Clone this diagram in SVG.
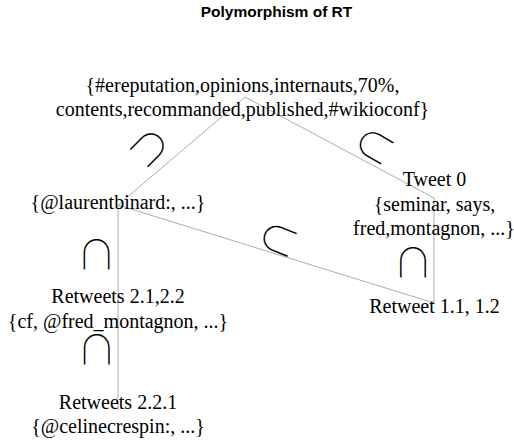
<svg xmlns="http://www.w3.org/2000/svg" width="514" height="441" viewBox="0 0 514 441">
  <style>
    .title { font-family: "Liberation Sans", Arial, sans-serif; font-weight: bold; font-size: 15.5px; fill: #000; }
    .lbl { font-family: "Liberation Serif", "Times New Roman", serif; font-size: 20px; fill: #000; text-anchor: middle; }
    .edge { stroke: #ababab; stroke-width: 1; fill: none; }
    .cap { font-family: "Noto Sans CJK JP", "Noto Sans CJK SC", sans-serif; font-weight: 100; font-size: 40px; fill: #000; text-anchor: middle; }
  </style>
  <rect width="514" height="441" fill="#fff"/>
  <text class="title" x="276.5" y="17" text-anchor="middle">Polymorphism of RT</text>

  <!-- connectors between node centres -->
  <g id="edges">
    <line class="edge" x1="245" y1="97" x2="118" y2="205"/>
    <line class="edge" x1="245" y1="97" x2="434" y2="198"/>
    <line class="edge" x1="118" y1="205" x2="434" y2="303"/>
    <line class="edge" x1="118" y1="205" x2="118" y2="310"/>
    <line class="edge" x1="118" y1="310" x2="118" y2="410"/>
    <line class="edge" x1="434" y1="198" x2="434" y2="303"/>
  </g>

  <!-- intersection marks on each connector, arch turned toward the parent node -->
  <g id="caps">
    <g transform="translate(148,149) rotate(45)"><text class="cap" y="13">∩</text></g>
    <g transform="translate(376,147) rotate(-60)"><text class="cap" y="13">∩</text></g>
    <g transform="translate(280,240) rotate(-68)"><text class="cap" y="13">∩</text></g>
    <g transform="translate(96.5,255.5)"><text class="cap" y="13">∩</text></g>
    <g transform="translate(413,264)"><text class="cap" y="13">∩</text></g>
    <g transform="translate(96.7,351)"><text class="cap" y="13">∩</text></g>
  </g>

  <g id="node-root">
    <text class="lbl" x="242.5" y="91.5">{#ereputation,opinions,internauts,70%,</text>
    <text class="lbl" x="242.5" y="116">contents,recommanded,published,#wikioconf}</text>
  </g>
  <g id="node-laurentbinard">
    <text class="lbl" x="118" y="209">{@laurentbinard:, ...}</text>
  </g>
  <g id="node-tweet0">
    <text class="lbl" x="434.5" y="185.5">Tweet 0</text>
    <text class="lbl" x="434.5" y="210.5">{seminar, says,</text>
    <text class="lbl" x="434" y="235">fred,montagnon, ...}</text>
  </g>
  <g id="node-retweet11">
    <text class="lbl" x="434.5" y="313">Retweet 1.1, 1.2</text>
  </g>
  <g id="node-retweets21">
    <text class="lbl" x="118" y="303">Retweets 2.1,2.2</text>
    <text class="lbl" x="118" y="328">{cf, @fred_montagnon, ...}</text>
  </g>
  <g id="node-retweets221">
    <text class="lbl" x="118" y="408.5">Retweets 2.2.1</text>
    <text class="lbl" x="118" y="433">{@celinecrespin:, ...}</text>
  </g>
</svg>
